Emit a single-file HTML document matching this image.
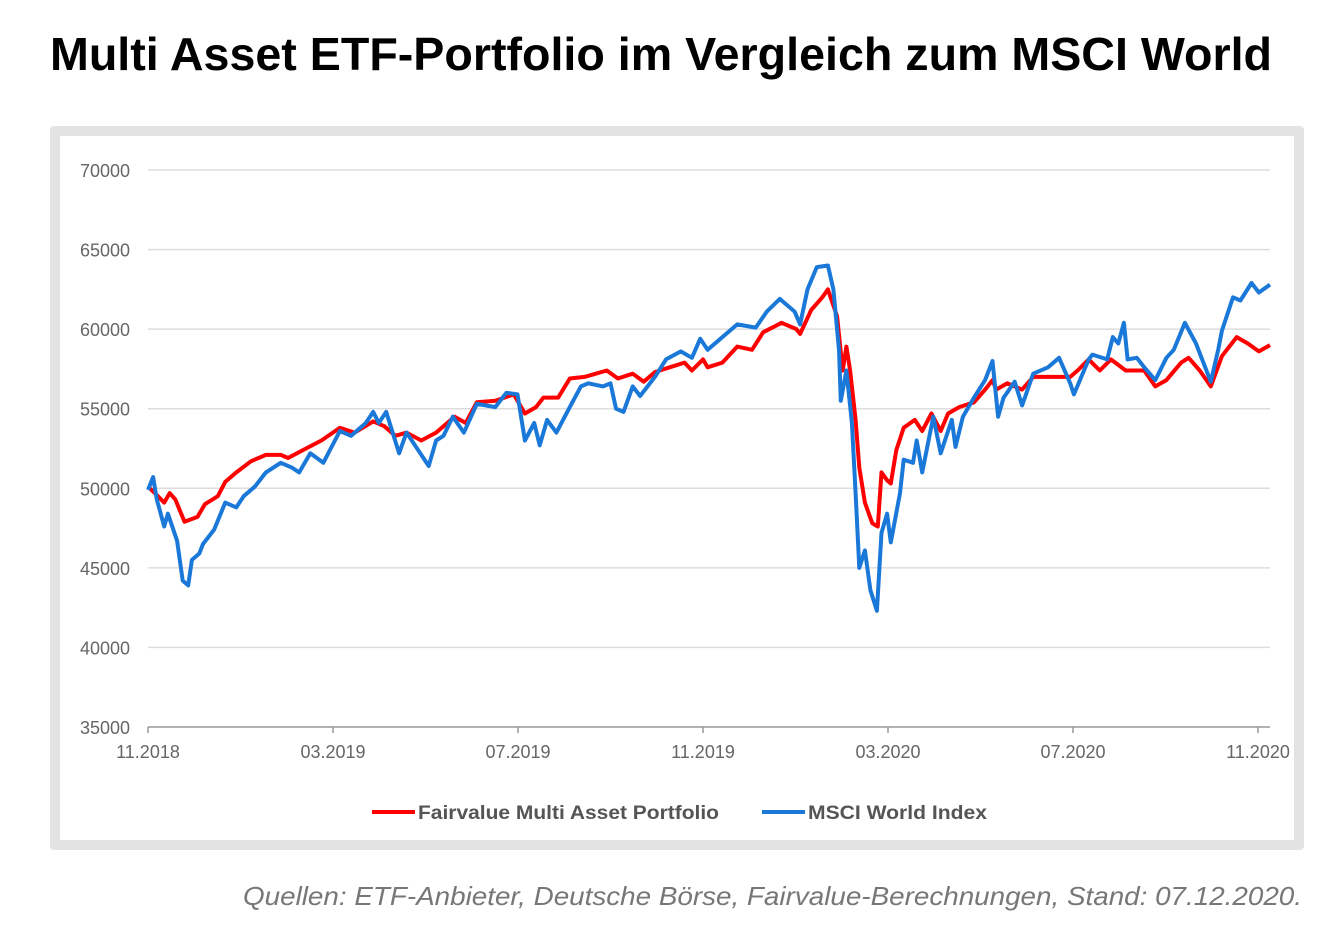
<!DOCTYPE html>
<html><head><meta charset="utf-8"><style>
body{margin:0;background:#fff;width:1338px;height:944px;overflow:hidden;font-family:"Liberation Sans",sans-serif}
</style></head><body>
<svg width="1338" height="944" xmlns="http://www.w3.org/2000/svg">
<text x="50" y="70" font-family="Liberation Sans, sans-serif" font-weight="bold" font-size="46" textLength="1222" lengthAdjust="spacingAndGlyphs" fill="#000">Multi Asset ETF-Portfolio im Vergleich zum MSCI World</text>
<rect x="50" y="126" width="1254" height="724" rx="4" fill="#e3e3e3"/>
<rect x="60" y="136" width="1234" height="704" fill="#fff"/>
<g id="grid"></g><g id="axes"></g><g id="series"></g>
<g>
<line x1="372" y1="812" x2="415" y2="812" stroke="#f00" stroke-width="4"/>
<text x="418" y="819" font-size="19" font-weight="bold" fill="#555" textLength="301" lengthAdjust="spacingAndGlyphs">Fairvalue Multi Asset Portfolio</text>
<line x1="762" y1="812" x2="805" y2="812" stroke="#1a78d8" stroke-width="4"/>
<text x="808" y="819" font-size="19" font-weight="bold" fill="#555" textLength="179" lengthAdjust="spacingAndGlyphs">MSCI World Index</text>
</g>
<text x="1302" y="905" text-anchor="end" font-size="26" font-style="italic" fill="#777" textLength="1059" lengthAdjust="spacingAndGlyphs">Quellen: ETF-Anbieter, Deutsche Börse, Fairvalue-Berechnungen, Stand: 07.12.2020.</text>
</svg>
<script>
const yTicks=[35000,40000,45000,50000,55000,60000,65000,70000];
const xTickMonths=[0,4,8,12,16,20,24];
const xTickLabels=["11.2018","03.2019","07.2019","11.2019","03.2020","07.2020","11.2020"];
const redMonths=[0,0.15,0.35,0.47,0.59,0.79,1.07,1.23,1.51,1.67,1.91,2.23,2.55,2.87,3.03,3.35,3.75,4.15,4.47,4.87,5.11,5.35,5.59,5.91,6.23,6.63,6.87,7.11,7.51,7.91,8.15,8.39,8.55,8.87,9.12,9.44,9.68,9.92,10.16,10.48,10.72,10.96,11.28,11.6,11.76,12.0,12.1,12.42,12.74,13.06,13.3,13.7,14.02,14.1,14.34,14.58,14.7,14.9,15.02,15.1,15.18,15.3,15.38,15.5,15.66,15.78,15.86,15.98,16.06,16.18,16.34,16.58,16.74,16.94,17.14,17.3,17.54,17.86,18.1,18.26,18.34,18.58,18.9,19.14,19.54,19.78,19.94,20.1,20.34,20.58,20.82,21.14,21.38,21.54,21.78,22.02,22.34,22.5,22.74,22.98,23.22,23.54,23.78,24.02,24.26];
const redValues=[50100,49700,49100,49700,49300,47900,48200,49000,49500,50400,51000,51700,52100,52100,51900,52400,53000,53800,53500,54200,53900,53300,53500,53000,53500,54500,54100,55400,55500,55900,54700,55100,55700,55700,56900,57000,57200,57400,56900,57200,56700,57300,57600,57900,57400,58100,57600,57900,58900,58700,59800,60400,60000,59700,61200,62000,62500,60800,57400,58900,57400,54300,51300,49100,47800,47600,51000,50500,50300,52400,53800,54300,53600,54700,53600,54700,55100,55400,56200,56800,56200,56600,56200,57000,57000,57000,57000,57400,58100,57400,58100,57400,57400,57400,56400,56800,57900,58200,57400,56400,58300,59500,59100,58600,59000];
const blueMonths=[0,0.11,0.19,0.35,0.43,0.63,0.75,0.87,0.95,1.11,1.19,1.43,1.67,1.91,2.07,2.31,2.55,2.87,3.11,3.27,3.51,3.79,4.15,4.39,4.71,4.87,4.99,5.15,5.43,5.59,5.75,6.07,6.23,6.39,6.59,6.83,7.11,7.51,7.75,7.99,8.15,8.35,8.47,8.63,8.83,9.12,9.36,9.52,9.84,10.0,10.12,10.28,10.48,10.64,10.96,11.2,11.52,11.76,11.94,12.1,12.74,13.14,13.38,13.66,13.98,14.1,14.26,14.46,14.7,14.82,14.94,14.98,15.1,15.22,15.3,15.38,15.5,15.62,15.76,15.86,15.98,16.06,16.26,16.34,16.54,16.62,16.74,16.98,17.14,17.38,17.46,17.62,17.86,18.1,18.26,18.38,18.5,18.74,18.9,19.14,19.46,19.7,19.94,20.02,20.34,20.42,20.74,20.86,20.98,21.1,21.18,21.38,21.54,21.78,22.02,22.18,22.42,22.66,22.98,23.14,23.22,23.46,23.62,23.86,24.02,24.26];
const blueValues=[49900,50700,49300,47600,48400,46700,44200,43900,45500,45900,46500,47400,49100,48800,49500,50100,51000,51600,51300,51000,52200,51600,53600,53300,54100,54800,54100,54800,52200,53500,52800,51400,53000,53300,54500,53500,55300,55100,56000,55900,53000,54100,52700,54300,53500,55100,56400,56600,56400,56600,55000,54800,56400,55800,57000,58100,58600,58200,59400,58700,60300,60100,61100,61900,61100,60300,62500,63900,64000,62500,58700,55500,57400,54100,49700,45000,46100,43600,42300,47200,48400,46600,49700,51800,51600,53000,51000,54500,52200,54300,52600,54500,55700,56800,58000,54500,55700,56700,55200,57200,57600,58200,56600,55900,58100,58400,58100,59500,59100,60400,58100,58200,57600,56800,58200,58700,60400,59100,56700,58700,59900,62000,61800,62900,62300,62800];
const NS="http://www.w3.org/2000/svg";
const X0=148,PXM=46.25,YB=727,YT=170,VMIN=35000,VMAX=70000;
function xs(m){return X0+m*PXM;}
function ys(v){return YB-(v-VMIN)/(VMAX-VMIN)*(YB-YT);}
const grid=document.getElementById('grid'),axes=document.getElementById('axes'),ser=document.getElementById('series');
yTicks.forEach(v=>{
 const l=document.createElementNS(NS,'line');
 l.setAttribute('x1',X0);l.setAttribute('x2',1270);l.setAttribute('y1',ys(v));l.setAttribute('y2',ys(v));
 l.setAttribute('stroke',v===VMIN?'#999':'#ddd');l.setAttribute('stroke-width','1.5');
 
 
 grid.appendChild(l);
 const t=document.createElementNS(NS,'text');
 t.setAttribute('x',130);t.setAttribute('y',ys(v)+7);t.setAttribute('text-anchor','end');
 t.setAttribute('font-size','18');t.setAttribute('fill','#666');t.textContent=v;
 
 
 axes.appendChild(t);
});
xTickMonths.forEach((m,i)=>{
 const l=document.createElementNS(NS,'line');
 l.setAttribute('x1',xs(m));l.setAttribute('x2',xs(m));l.setAttribute('y1',YB);l.setAttribute('y2',YB+6);
 l.setAttribute('stroke','#999');l.setAttribute('stroke-width','1.5');
 
 
 axes.appendChild(l);
 const t=document.createElementNS(NS,'text');
 t.setAttribute('x',xs(m));t.setAttribute('y',758);t.setAttribute('text-anchor','middle');
 t.setAttribute('font-size','18');t.setAttribute('fill','#666');t.textContent=xTickLabels[i];
 
 
 axes.appendChild(t);
});
function drawLine(ms,vs,color,name){
 const p=document.createElementNS(NS,'polyline');
 p.setAttribute('points',ms.map((m,i)=>xs(m).toFixed(1)+','+ys(vs[i]).toFixed(1)).join(' '));
 p.setAttribute('fill','none');p.setAttribute('stroke',color);p.setAttribute('stroke-width','4');
 p.setAttribute('stroke-linejoin','round');
 
 
 ser.appendChild(p);
}
drawLine(redMonths,redValues,'#f00','portfolio-line');
drawLine(blueMonths,blueValues,'#1a78d8','msci-world-line');
</script>
</body></html>
